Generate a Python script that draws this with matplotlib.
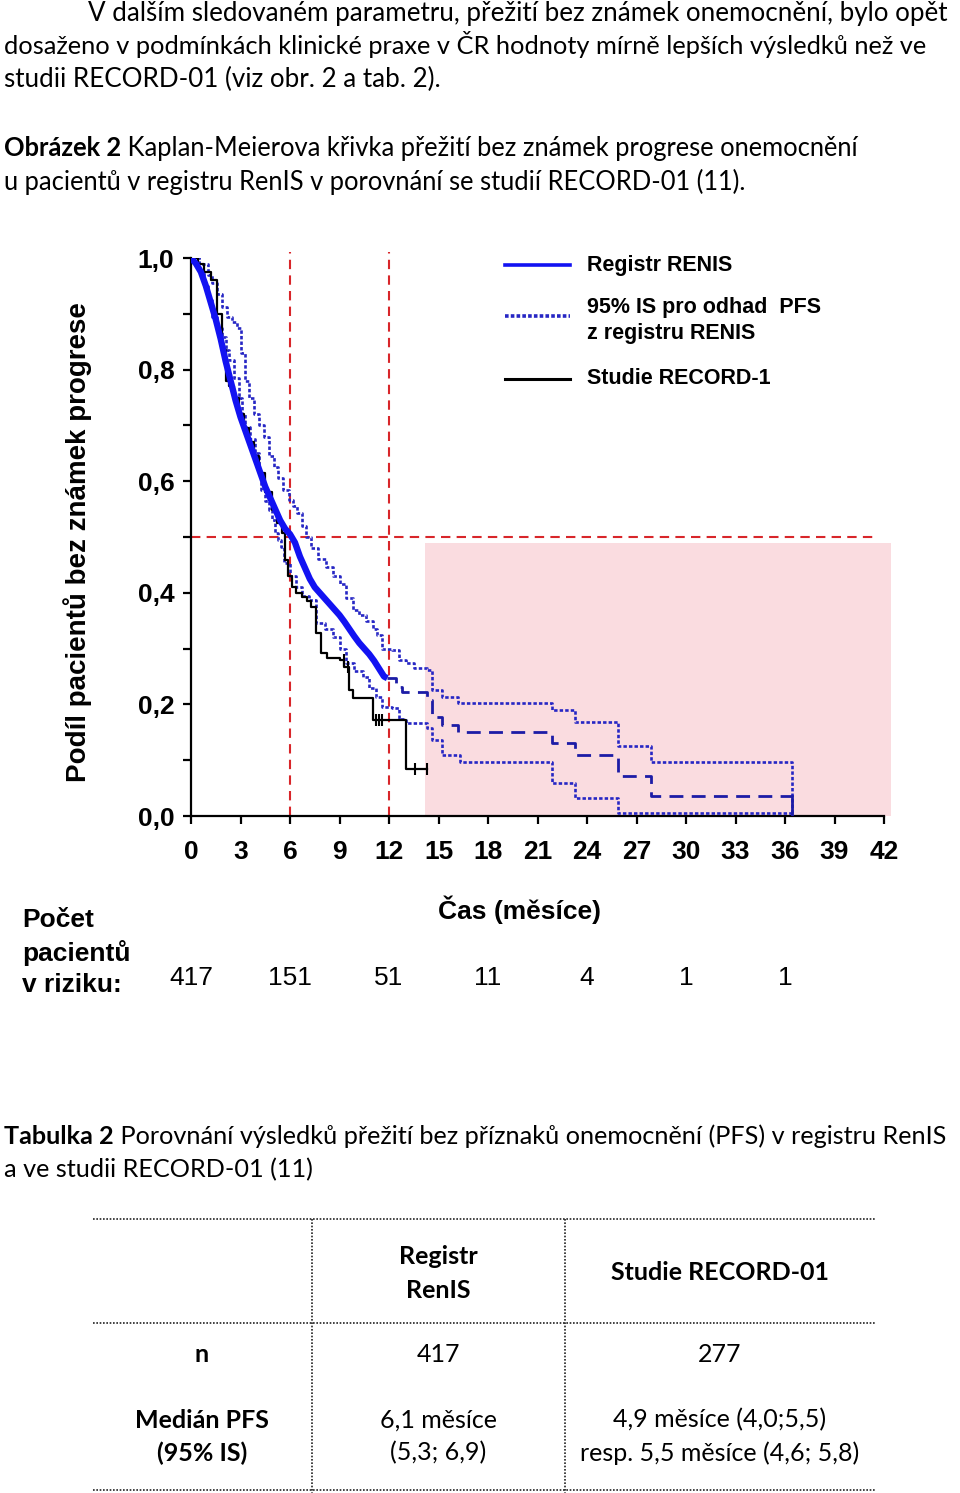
import numpy as np
import matplotlib.pyplot as plt
from matplotlib.lines import Line2D
from matplotlib.patches import Rectangle
from matplotlib.transforms import blended_transform_factory

# Registr RENIS - KM odhad (mesice, podil bez progrese)
renis_t = [0, 0.3, 0.6, 0.9, 1.2, 1.5, 1.8, 2.1, 2.4, 2.7, 3.0, 3.3, 3.6, 3.9, 4.2, 4.5, 4.8,
           5.1, 5.4, 5.7, 6.0, 6.3, 6.6, 6.9, 7.2, 7.5, 7.8, 8.1, 8.4, 8.7, 9.0, 9.3, 9.6, 9.9,
           10.2, 10.5, 10.8, 11.1, 11.4, 11.7, 11.9]
renis_s = [1.0, 0.99, 0.975, 0.95, 0.92, 0.89, 0.855, 0.815, 0.78, 0.745, 0.715, 0.69, 0.665,
           0.64, 0.615, 0.59, 0.57, 0.55, 0.53, 0.515, 0.505, 0.49, 0.465, 0.445, 0.425, 0.41,
           0.40, 0.39, 0.38, 0.37, 0.36, 0.348, 0.335, 0.322, 0.31, 0.30, 0.29, 0.278, 0.264,
           0.25, 0.247]
# pokracovani za 12 mesici (carkovane)
tail_t = [11.9, 12.4, 12.8, 14.3, 14.6, 15.2, 16.2, 21.9, 23.3, 25.9, 27.9, 36.4]
tail_s = [0.247, 0.232, 0.222, 0.208, 0.178, 0.163, 0.151, 0.131, 0.109, 0.072, 0.036, 0.036]

# 95% IS - horni mez
up_t = [0, 0.5, 1.0, 1.3, 1.6, 1.9, 2.2, 2.5, 2.8, 3.0, 3.3, 3.5, 3.8, 4.1, 4.4, 4.7, 5.0, 5.3,
        5.6, 5.95, 6.2, 6.45, 6.7, 6.95, 7.3, 7.7, 8.2, 8.6, 9.0, 9.4, 9.8, 10.2, 10.6, 11.0,
        11.3, 11.6, 12.2, 12.6, 13.0, 13.5, 14.3, 14.6, 15.2, 16.2, 21.9, 23.3, 25.9, 27.9, 36.4]
up_s = [1.0, 0.99, 0.97, 0.955, 0.935, 0.912, 0.895, 0.885, 0.875, 0.83, 0.78, 0.75, 0.72, 0.70,
        0.68, 0.645, 0.625, 0.605, 0.585, 0.566, 0.555, 0.543, 0.52, 0.50, 0.48, 0.46, 0.446,
        0.43, 0.415, 0.39, 0.37, 0.36, 0.35, 0.335, 0.325, 0.30, 0.297, 0.28, 0.274, 0.265,
        0.262, 0.226, 0.213, 0.202, 0.19, 0.168, 0.125, 0.097, 0.0]
# 95% IS - dolni mez
lo_t = [0, 0.5, 0.8, 1.0, 1.3, 1.6, 1.9, 2.1, 2.3, 2.6, 2.9, 3.1, 3.3, 3.6, 3.9, 4.1, 4.25, 4.5,
        4.7, 4.9, 5.1, 5.3, 5.45, 5.65, 6.0, 6.35, 6.7, 7.15, 7.6, 8.1, 8.6, 9.0, 9.4, 9.9, 10.4,
        10.8, 11.2, 11.6, 12.2, 12.6, 13.0, 14.3, 14.6, 15.2, 16.3, 21.9, 23.3, 25.9, 36.4]
lo_s = [1.0, 0.975, 0.95, 0.925, 0.895, 0.875, 0.858, 0.835, 0.817, 0.785, 0.75, 0.72, 0.697,
        0.675, 0.65, 0.615, 0.584, 0.565, 0.548, 0.53, 0.507, 0.495, 0.482, 0.453, 0.43, 0.41,
        0.395, 0.387, 0.346, 0.335, 0.321, 0.30, 0.274, 0.26, 0.249, 0.23, 0.213, 0.195, 0.194,
        0.174, 0.167, 0.158, 0.136, 0.109, 0.097, 0.059, 0.032, 0.005, 0.005]

# Studie RECORD-1
rec_t = [0, 0.4, 0.8, 1.2, 1.6, 1.9, 2.1, 2.3, 2.6, 2.9, 3.2, 3.5, 3.8, 4.1, 4.5, 4.9, 5.2, 5.5,
         5.7, 5.9, 6.1, 6.35, 6.7, 7.0, 7.3, 7.6, 7.9, 8.25, 9.0, 9.3, 9.6, 9.8, 10.8, 11.0,
         13.05, 14.3]
rec_s = [1.0, 0.99, 0.975, 0.96, 0.9, 0.835, 0.78, 0.77, 0.75, 0.72, 0.695, 0.67, 0.645, 0.615,
         0.58, 0.548, 0.525, 0.507, 0.459, 0.43, 0.41, 0.40, 0.393, 0.385, 0.375, 0.328, 0.292,
         0.283, 0.28, 0.267, 0.226, 0.211, 0.211, 0.172, 0.084, 0.084]
rec_cens = [9.25, 9.5, 11.2, 11.4, 11.6, 13.6, 14.3]

median_lines = [6, 12]
risk_t = [0, 6, 12, 18, 24, 30, 36]
risk_n = ['417', '151', '51', '11', '4', '1', '1']

yticks = [0, 0.2, 0.4, 0.6, 0.8, 1.0]
ytick_lbl = ['0,0', '0,2', '0,4', '0,6', '0,8', '1,0']
xticks = list(range(0, 43, 3))

W, H = 960, 1493
def fx(x):
    return x / W
def fy(y):
    return 1 - y / H

ARIAL = ['Liberation Sans', 'DejaVu Sans']
BODY = ['Lato', 'DejaVu Sans']
BODY_SIZE = 18.7
TAB_SIZE = 18

fig = plt.figure(figsize=(W / 100, H / 100), dpi=100)
ax = fig.add_axes([fx(191), fy(816), 693 / W, 558 / H])

# ruzova oblast
ax.add_patch(Rectangle((14.2, 0), 28.2, 0.49, facecolor='#fadce0', edgecolor='none',
                       zorder=0, clip_on=False))

red = '#d8262a'
for m in median_lines:
    ax.plot([m, m], [0, 1.01], color=red, lw=1.5, ls=(0, (4.5, 3)), clip_on=False, zorder=1)
ax.plot([0, 41.6], [0.5, 0.5], color=red, lw=1.5, ls=(0, (4.5, 3)), clip_on=False, zorder=1)

ci_col = '#2626c4'
ax.step(up_t, up_s, where='post', color=ci_col, lw=1.9, ls=(0, (1.3, 0.8)), zorder=3)
ax.step(lo_t, lo_s, where='post', color=ci_col, lw=1.9, ls=(0, (1.3, 0.8)), zorder=3)
ax.step(rec_t, rec_s, where='post', color='black', lw=1.6, zorder=4)
idx = np.searchsorted(rec_t, rec_cens, side='right') - 1
ax.plot(rec_cens, np.array(rec_s)[idx], ls='none', marker='|', ms=9, mew=1.5, color='black', zorder=4)
ax.plot(renis_t, renis_s, color='#1212f2', lw=4.6, zorder=5, solid_capstyle='butt')
ax.step(tail_t, tail_s, where='post', color='#1c1ca6', lw=2, ls=(0, (5, 3)), zorder=5)
ax.plot([tail_t[-1], tail_t[-1]], [tail_s[-1], 0], color='#1c1ca6', lw=2, zorder=5)

ax.set_xlim(0, 42)
ax.set_ylim(0, 1)
for sp in ['top', 'right']:
    ax.spines[sp].set_visible(False)
for sp in ['left', 'bottom']:
    ax.spines[sp].set_linewidth(1.6)
ax.set_xticks(xticks)
ax.set_xticklabels([str(x) for x in xticks], fontweight='bold', family=ARIAL, fontsize=19)
ax.set_yticks(yticks)
ax.set_yticklabels(ytick_lbl, fontweight='bold', family=ARIAL, fontsize=19)
ax.set_yticks(np.arange(0.1, 1.0, 0.2), minor=True)
ax.tick_params(axis='both', which='both', direction='out', length=6, width=1.6)
ax.tick_params(axis='x', pad=11)
ax.tick_params(axis='y', pad=6)

fig.text(fx(78), fy(542), 'Podíl pacientů bez známek progrese', rotation=90, ha='center',
         va='center', fontsize=20, fontweight='bold', family=ARIAL)
fig.text(fx(519), fy(910), 'Čas (měsíce)', ha='center', va='center', fontsize=19,
         fontweight='bold', family=ARIAL)
for txt, y in [('Počet', 920), ('pacientů', 953), ('v riziku:', 985)]:
    fig.text(fx(22), fy(y), txt, ha='left', va='center', fontsize=19, fontweight='bold', family=ARIAL)
tr = blended_transform_factory(ax.transData, fig.transFigure)
for t, n in zip(risk_t, risk_n):
    fig.text(t, fy(978), n, transform=tr, ha='center', va='center', fontsize=19, family=ARIAL)

# legenda
leg = [('#1212f2', '-', 2.6, 265), (ci_col, (0, (1, 0.6)), 2.6, 316), ('black', '-', 2.2, 379)]
for col, ls, lw, y in leg:
    fig.add_artist(Line2D([fx(505), fx(570)], [fy(y), fy(y)], color=col, ls=ls, lw=lw,
                          transform=fig.transFigure))
for txt, y in [('Registr RENIS', 265), ('95% IS pro odhad  PFS', 307),
               ('z registru RENIS', 334), ('Studie RECORD-1', 379)]:
    fig.text(fx(587), fy(y), txt, ha='left', va='center', fontsize=15.5, fontweight='bold',
             family=ARIAL)

# text nad a pod grafem
renderer = fig.canvas.get_renderer()
def body(x, y, txt, bold_prefix=None, size=BODY_SIZE):
    if bold_prefix:
        t = fig.text(fx(x), fy(y), bold_prefix, va='baseline', fontsize=size,
                     fontweight='bold', family=BODY)
        bb = t.get_window_extent(renderer)
        fig.text(bb.x1 / fig.bbox.width, fy(y), ' ' + txt, va='baseline', fontsize=size, family=BODY)
    else:
        fig.text(fx(x), fy(y), txt, va='baseline', fontsize=size, family=BODY)

body(88, 21, 'V dalším sledovaném parametru, přežití bez známek onemocnění, bylo opět')
body(4, 54, 'dosaženo v podmínkách klinické praxe v ČR hodnoty mírně lepších výsledků než ve',
     size=18.3)
body(4, 87, 'studii RECORD-01 (viz obr. 2 a tab. 2).')
body(4, 156, 'Kaplan-Meierova křivka přežití bez známek progrese onemocnění', bold_prefix='Obrázek 2',
     size=18.4)
body(4, 190, 'u pacientů v registru RenIS v porovnání se studií RECORD-01 (11).', size=18.4)
body(4, 1144, 'Porovnání výsledků přežití bez příznaků onemocnění (PFS) v registru RenIS',
     bold_prefix='Tabulka 2', size=18.2)
body(4, 1177, 'a ve studii RECORD-01 (11)', size=18.2)

# tabulka
for y in [1219, 1323, 1490]:
    fig.add_artist(Line2D([fx(93), fx(875)], [fy(y), fy(y)], color='#222222', lw=1.2,
                          ls=(0, (1, 1)), transform=fig.transFigure))
for x in [312, 565]:
    fig.add_artist(Line2D([fx(x), fx(x)], [fy(1219), fy(1493)], color='#222222', lw=1.2,
                          ls=(0, (1, 1)), transform=fig.transFigure))

cells = [
    (438, 1256, 'Registr', 'bold'), (438, 1290, 'RenIS', 'bold'),
    (720, 1273, 'Studie RECORD-01', 'bold'),
    (202, 1355, 'n', 'bold'), (438, 1355, '417', 'normal'), (720, 1355, '277', 'normal'),
    (202, 1420, 'Medián PFS', 'bold'), (202, 1453, '(95% IS)', 'bold'),
    (438, 1420, '6,1 měsíce', 'normal'), (438, 1453, '(5,3; 6,9)', 'normal'),
    (720, 1420, '4,9 měsíce (4,0;5,5)', 'normal'),
    (720, 1453, 'resp. 5,5 měsíce (4,6; 5,8)', 'normal'),
]
for x, y, txt, wt in cells:
    fig.text(fx(x), fy(y), txt, ha='center', va='center', fontsize=TAB_SIZE, fontweight=wt, family=BODY)

fig.savefig('out.png', dpi=100)
